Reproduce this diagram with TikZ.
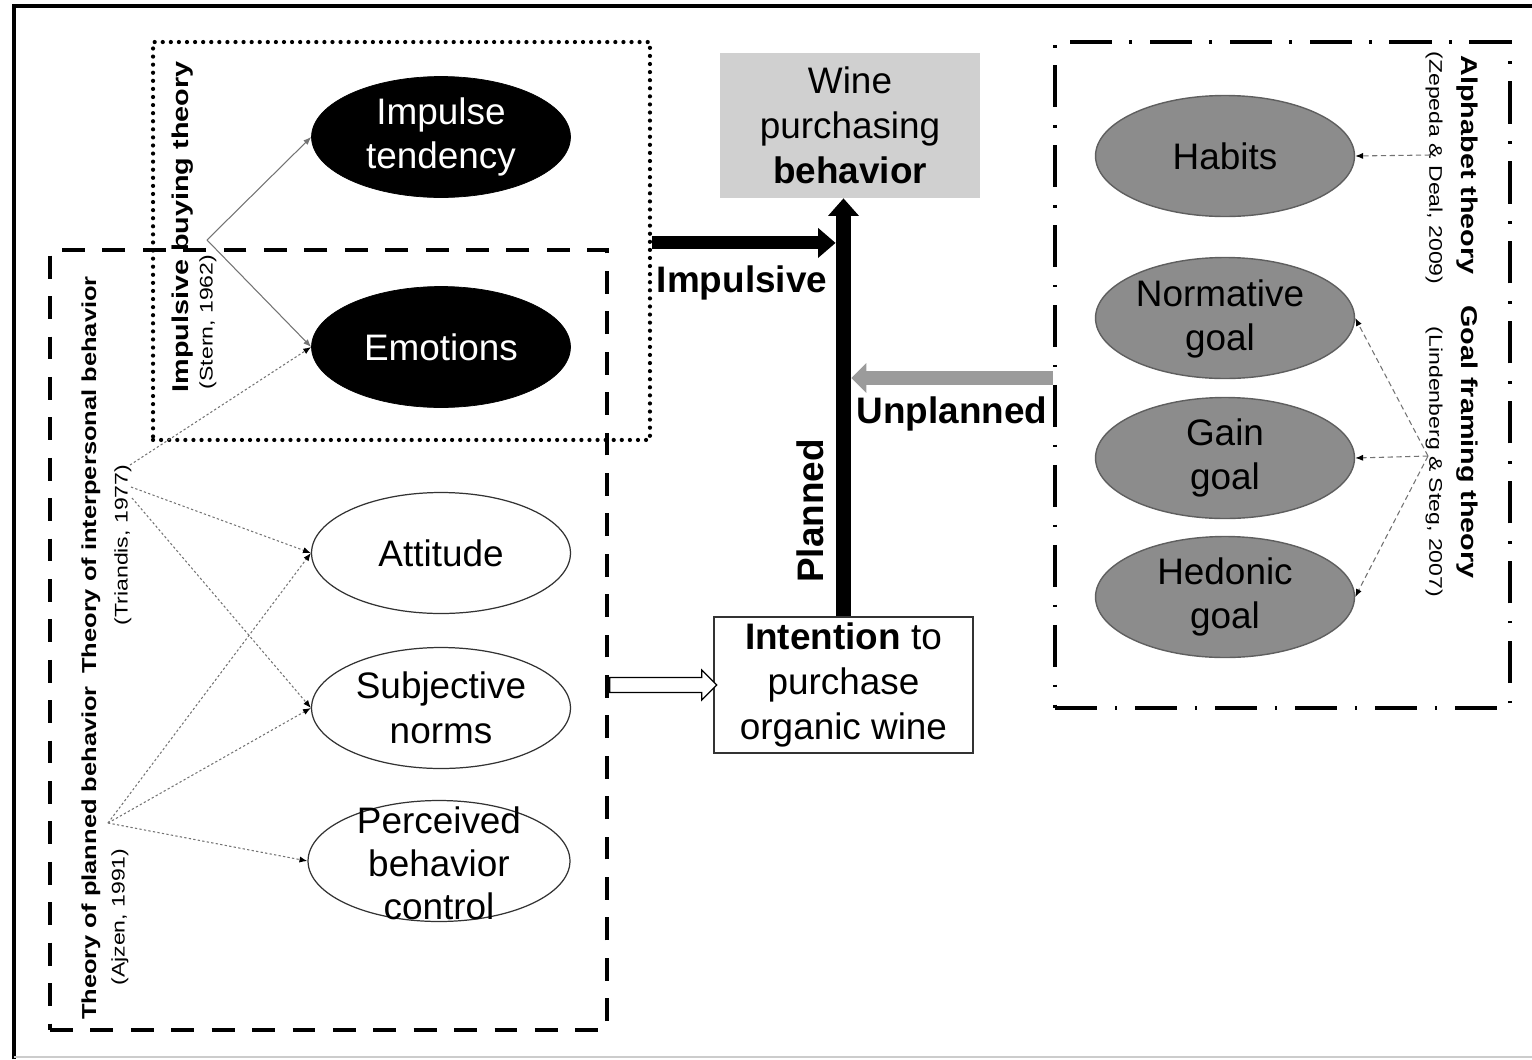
\documentclass[tikz,border=0pt]{standalone}
\usepackage{fontspec}
\setmainfont{Liberation Sans}
\usetikzlibrary{shapes.geometric,shapes.arrows,arrows.meta,calc}
\definecolor{ellgray}{RGB}{140,140,140}
\definecolor{elledge}{RGB}{95,95,95}
\definecolor{winegray}{RGB}{208,208,208}
\definecolor{arrgray}{RGB}{155,155,155}
\definecolor{linegray}{RGB}{115,115,115}
\begin{document}
\begin{tikzpicture}[x=0.02cm,y=-0.02cm,
  ell/.style={ellipse,minimum width=5.18cm,minimum height=2.42cm,inner sep=0pt},
  blkell/.style={ell,fill=black,draw=black},
  whtell/.style={ell,fill=white,draw=black!80,line width=0.7pt},
  gryell/.style={ell,fill=ellgray,draw=elledge,line width=0.8pt},
  bigtxt/.style={align=center,font=\fontsize{21}{25.5}\selectfont,inner sep=0pt},
  rotl/.style={rotate=90,xscale=1.26,inner sep=0pt},
  rotr/.style={rotate=-90,xscale=1.26,inner sep=0pt},
  ttl/.style={font=\bfseries\fontsize{13}{15}\selectfont},
  ttlsmall/.style={font=\bfseries\fontsize{11.5}{13}\selectfont},
  cite/.style={font=\fontsize{10.4}{12}\selectfont},
  dotbox/.style={draw,line width=2.4pt,dash pattern=on 0pt off 4.6pt,line cap=round,inner sep=0pt},
  dashbox/.style={draw,line width=2.4pt,dash pattern=on 13pt off 10pt,inner sep=0pt},
  dashdotbox/.style={draw,line width=2.3pt,dash pattern=on 24pt off 10pt on 1.5pt off 10pt,inner sep=0pt},
  thinsolid/.style={draw=linegray,line width=0.6pt,-{Latex[length=4.5pt,width=3.5pt]}},
  thindot/.style={draw=linegray,line width=0.6pt,dash pattern=on 1.3pt off 1.3pt,-{Latex[length=4.5pt,width=3.5pt,black]}},
  thindash/.style={draw=linegray,line width=0.6pt,dash pattern=on 3pt off 2pt,-{Latex[length=4.5pt,width=3.5pt,black]}},
  lbl/.style={font=\bfseries\fontsize{21}{25.5}\selectfont,inner sep=0pt}
]
\useasboundingbox (0,0) rectangle (1532,1059);
% outer frame
\draw[line width=2.6pt] (14,1059) -- (14,6) -- (1532,6);
\draw[black!20,line width=0.8pt] (14,1057) -- (1532,1057);

% theory boxes
\node[dashbox,minimum width=11.14cm,minimum height=15.6cm] (tpb) at (328.5,640) {};
\node[dotbox,minimum width=9.94cm,minimum height=7.96cm] (ibt) at (401.5,241) {};
\node[dashdotbox,minimum width=9.1cm,minimum height=13.32cm] (rbox) at (1282.5,375) {};

% left ellipses
\node[blkell] (imp) at (441,137) {};
\node[bigtxt,text=white] (impT) at (imp) {Impulse\\tendency};
\node[blkell] (emo) at (441,347) {};
\node[bigtxt,text=white] (emoT) at (emo) {Emotions};
\node[whtell] (att) at (441,553) {};
\node[bigtxt] (attT) at (att) {Attitude};
\node[whtell] (sn) at (441,708) {};
\node[bigtxt] (snT) at (sn) {Subjective\\norms};
\node[whtell,minimum width=5.24cm] (pbc) at (439,861) {};
\node[bigtxt,font=\fontsize{21}{24.5}\selectfont] (pbcT) at (439,863) {Perceived\\behavior\\control};

% right ellipses
\node[gryell] (hab) at (1225,156) {};
\node[bigtxt] (habT) at (hab) {Habits};
\node[gryell] (nor) at (1225,318) {};
\node[bigtxt] (norT) at (1220,319) {Normative\\goal};
\node[gryell] (gai) at (1225,458) {};
\node[bigtxt] (gaiT) at (gai) {Gain\\goal};
\node[gryell] (hed) at (1225,597) {};
\node[bigtxt] (hedT) at (hed) {Hedonic\\goal};

% central boxes
\node[fill=winegray,minimum width=5.2cm,minimum height=2.9cm,inner sep=0pt] (wine) at (850,125.5) {};
\node[bigtxt] (wineT) at (wine) {Wine\\purchasing\\\textbf{behavior}};
\node[draw=black!80,fill=white,line width=0.7pt,minimum width=5.18cm,minimum height=2.72cm,inner sep=0pt] (intent) at (843.5,685) {};
\node[bigtxt] (intentT) at (intent) {\textbf{Intention} to\\purchase\\organic wine};

% big arrows
\draw[line width=9pt,-{Triangle[length=10pt,width=17pt]}] (intent.north) -- (intent.north |- wine.south);
\draw[line width=7.4pt,-{Triangle[length=10pt,width=16.5pt]}] ([yshift=-1.1pt]ibt.east) -- ([yshift=-1.1pt,xshift=-4.5pt]ibt.east -| intent.north);
\draw[arrgray,line width=8.5pt,-{Triangle[length=8.5pt,width=16.5pt]}] ([yshift=-1.7pt]rbox.west) -- ([yshift=-1.7pt,xshift=4.5pt]rbox.west -| intent.north);
\node[single arrow,draw=black,fill=white,line width=0.7pt,minimum height=2.14cm,inner xsep=0pt,inner ysep=3.9pt,single arrow head extend=4.3pt,anchor=west] (harr) at (tpb.east |- intent.west) {};

% arrow labels
\node[lbl] (lImp) at (742,283) {Impulsive};
\node[lbl] (lUnp) at (952,414) {Unplanned};
\node[lbl,rotate=90] (lPla) at (810,511) {Planned};

% rotated theory labels
\node[rotl,ttl] (ibtL) at (183,227) {Impulsive buying theory};
\node[rotl,cite] (ibtC) at (208,322) {(Stern, 1962)};
\node[rotl,ttlsmall] (tpbL) at (91,853) {Theory of planned behavior};
\node[rotl,ttlsmall] (tibL) at (91,475) {Theory of interpersonal behavior};
\node[rotl,cite] (tpbC) at (120,917) {(Ajzen, 1991)};
\node[rotl,cite] (tibC) at (123,545) {(Triandis, 1977)};
\node[rotr,ttl] (alpL) at (1467,165) {Alphabet theory};
\node[rotr,ttl] (gftL) at (1467,442) {Goal framing theory};
\node[rotr,cite] (alpC) at (1434,168) {(Zepeda \& Deal, 2009)};
\node[rotr,cite] (gftC) at (1434,462) {(Lindenberg \& Steg, 2007)};

% thin connector sources
\coordinate (ibS) at (207,240);
\coordinate (trS1) at (130,465);
\coordinate (trS2) at (131,487);
\coordinate (trS3) at (132,498);
\coordinate (ajS) at (108,823);
\coordinate (zdS) at (1430,155);
\coordinate (lsS) at (1428,456);

\draw[thinsolid] (ibS) -- (imp.west);
\draw[thinsolid] (ibS) -- (emo.west);
\draw[thindot] (trS1) -- (emo.west);
\draw[thindot] (trS2) -- (att.west);
\draw[thindot] (trS3) -- (sn.west);
\draw[thindot] (ajS) -- (att.west);
\draw[thindot] (ajS) -- (sn.west);
\draw[thindot] (ajS) -- (pbc.west);
\draw[thindash] (zdS) -- (hab.east);
\draw[thindash] (lsS) -- (nor.east);
\draw[thindash] (lsS) -- (gai.east);
\draw[thindash] (lsS) -- (hed.east);
\end{tikzpicture}
\end{document}
